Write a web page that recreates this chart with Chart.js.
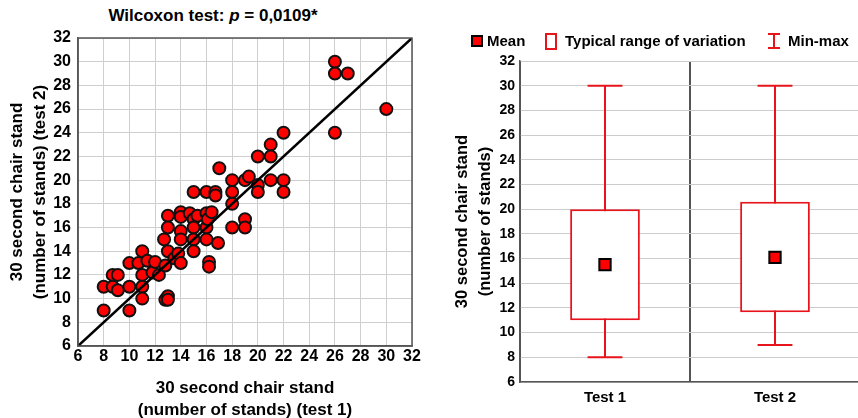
<!DOCTYPE html>
<html>
<head>
<meta charset="utf-8">
<script src="https://cdn.jsdelivr.net/npm/chart.js@4/dist/chart.umd.min.js"></script>
<style>
  html, body { margin:0; padding:0; background:#fff; }
  body { width:858px; height:418px; overflow:hidden; position:relative; font-family:"Liberation Sans", Arial, sans-serif; }
  #cA { position:absolute; left:0; top:0; }
  #cB { position:absolute; left:430px; top:0; }
  .title { position:absolute; left:0; top:5px; width:426px; text-align:center; font-weight:bold; font-size:17px; line-height:22px; color:#000; }
  .lg { position:absolute; font-weight:bold; font-size:15px; line-height:18px; color:#000; top:32px; white-space:nowrap; }
  .sw { position:absolute; box-sizing:border-box; }
</style>
</head>
<body>
<div class="title">Wilcoxon test: <i>p</i> = 0,0109*</div>
<canvas id="cA" width="430" height="430"></canvas>
<canvas id="cB" width="440" height="430"></canvas>

<div class="sw" style="left:471px; top:35px; width:12px; height:12px; background:#ff0000; border:2px solid #000;"></div>
<div class="lg" style="left:487px;">Mean</div>
<div class="sw" style="left:545px; top:33px; width:12px; height:17px; background:#fff; border:2px solid #e8141c;"></div>
<div class="lg" style="left:565px;">Typical range of variation</div>
<div class="sw" style="left:768px; top:33px; width:12px; height:2px; background:#e8141c;"></div>
<div class="sw" style="left:773px; top:33px; width:2px; height:16px; background:#e8141c;"></div>
<div class="sw" style="left:768px; top:47px; width:12px; height:2px; background:#e8141c;"></div>
<div class="lg" style="left:788px;">Min-max</div>

<script>
// ---------- Data: scatter (test 1 vs test 2) ----------
const test1 = [8, 8, 8.7, 9.1, 8.7, 9.1, 10, 10, 10, 10.7, 11, 11, 11, 11, 11.4, 11.8, 12, 12.3, 12.7, 12.8, 12.8, 13, 13, 13, 13, 13, 13.5, 13.8, 14, 14, 14, 14, 14, 14.7, 15, 15, 15, 15, 15, 15.3, 16, 16, 16, 16, 16.1, 16.2, 16.2, 16.4, 16.7, 16.7, 16.9, 17, 18, 18, 18, 18, 19, 19, 19, 19.3, 20, 20, 20, 21, 21, 21, 22, 22, 22, 26, 26, 26, 27, 30];
const test2 = [11, 9, 12, 12, 11, 10.7, 13, 11, 9, 13, 14, 12, 11, 10, 13.2, 12.2, 13.1, 12, 15, 12.8, 9.9, 10.2, 9.9, 17, 16, 14, 13.4, 13.8, 13, 17.3, 16.9, 15.7, 15, 17.2, 19, 16.7, 16, 15, 14, 17, 19, 17.2, 16, 15, 16.7, 13.1, 12.7, 17.3, 19, 18.7, 14.7, 21, 20, 19, 18, 16, 16.7, 16, 20, 20.3, 22, 19.6, 19, 23, 22, 20, 24, 20, 19, 30, 29, 24, 29, 26];
const identityLine = [6, 32];           // y = x reference line endpoints
const scatterTicks = { min: 6, max: 32, step: 2 };

// ---------- Data: summary chart ----------
const categories = ["Test 1", "Test 2"];
const meanVals = [15.5, 16.1];
const boxLow = [11, 11.65];
const boxHigh = [20, 20.6];
const minVals = [8, 9];
const maxVals = [30, 30];
const summaryTicks = { min: 6, max: 32, step: 2 };

const FONT = '"Liberation Sans", Arial, sans-serif';
const RED = '#ff0000';
const BOXRED = '#e8141c';

// frame plugin for scatter plot area
const framePlugin = {
  id: 'frame',
  afterDraw(chart) {
    const a = chart.chartArea, c = chart.ctx;
    c.save();
    c.strokeStyle = '#555';
    c.lineWidth = 1.5;
    c.strokeRect(a.left, a.top, a.right - a.left, a.bottom - a.top);
    c.restore();
  }
};

new Chart(document.getElementById('cA'), {
  type: 'scatter',
  data: {
    datasets: [
      {
        type: 'line',
        data: identityLine.map(v => ({ x: v, y: v })),
        borderColor: '#000',
        borderWidth: 2.5,
        pointRadius: 0,
        order: 0
      },
      {
        data: test1.map((v, i) => ({ x: v, y: test2[i] })),
        backgroundColor: RED,
        borderColor: '#111',
        borderWidth: 2,
        pointRadius: 6,
        order: 1
      }
    ]
  },
  options: {
    responsive: false,
    animation: false,
    devicePixelRatio: 1,
    layout: { padding: { top: 38, right: 18, left: 0, bottom: 0 } },
    plugins: { legend: { display: false }, tooltip: { enabled: false } },
    scales: {
      x: {
        type: 'linear', min: scatterTicks.min, max: scatterTicks.max,
        ticks: { stepSize: scatterTicks.step, color: '#000', padding: 1, font: { family: FONT, size: 16, weight: 'bold' } },
        grid: { color: '#cfcfcf', drawTicks: false },
        border: { color: '#555', width: 1.5 },
        title: { display: true, text: ['30 second chair stand', '(number of stands) (test 1)'], color: '#000',
                 font: { family: FONT, size: 17, weight: 'bold', lineHeight: 1.3 }, padding: { top: 0, bottom: 8.5 } },
        afterFit(s) { s.height = 84; }
      },
      y: {
        type: 'linear', min: scatterTicks.min, max: scatterTicks.max,
        ticks: { stepSize: scatterTicks.step, color: '#000', padding: 7, font: { family: FONT, size: 16, weight: 'bold' } },
        grid: { color: '#cfcfcf', drawTicks: false },
        border: { color: '#555', width: 1.5 },
        title: { display: true, text: ['30 second chair stand', '(number of stands) (test 2)'], color: '#000',
                 font: { family: FONT, size: 17, weight: 'bold', lineHeight: 1.35 }, padding: { top: 6, bottom: 0 } },
        afterFit(s) { s.width = 78; }
      }
    }
  },
  plugins: [framePlugin]
});

// whisker plugin: draws min-max whiskers through the chart's scales
const whiskerPlugin = {
  id: 'whiskers',
  beforeDatasetsDraw(chart) {
    const xs = chart.scales.x, ys = chart.scales.y, c = chart.ctx;
    const barMeta = chart.getDatasetMeta(1);
    c.save();
    c.strokeStyle = BOXRED;
    c.lineWidth = 2;
    categories.forEach((cat, i) => {
      const x = xs.getPixelForValue(i);
      const yMin = ys.getPixelForValue(minVals[i]);
      const yMax = ys.getPixelForValue(maxVals[i]);
      const half = barMeta.data[i].width / 4;
      c.beginPath();
      c.moveTo(x, yMax); c.lineTo(x, yMin);
      c.moveTo(x - half, yMax); c.lineTo(x + half, yMax);
      c.moveTo(x - half, yMin); c.lineTo(x + half, yMin);
      c.stroke();
    });
    c.restore();
  }
};

new Chart(document.getElementById('cB'), {
  type: 'bar',
  data: {
    labels: categories,
    datasets: [
      {
        type: 'line',
        label: 'Mean',
        data: meanVals,
        showLine: false,
        pointStyle: 'rect',
        pointRadius: 8,
        pointBackgroundColor: RED,
        pointBorderColor: '#000',
        pointBorderWidth: 2,
        order: 0
      },
      {
        label: 'Typical range of variation',
        data: categories.map((c, i) => [boxLow[i], boxHigh[i]]),
        backgroundColor: '#fff',
        borderColor: BOXRED,
        borderWidth: 2,
        borderSkipped: false,
        barPercentage: 0.41,
        categoryPercentage: 1,
        order: 1
      }
    ]
  },
  options: {
    responsive: false,
    animation: false,
    devicePixelRatio: 1,
    layout: { padding: { top: 61, right: 5, left: 0, bottom: 0 } },
    plugins: { legend: { display: false }, tooltip: { enabled: false } },
    scales: {
      x: {
        ticks: { color: '#000', padding: 7, font: { family: FONT, size: 15, weight: 'bold' } },
        grid: { offset: true, color: '#555', lineWidth: 2, drawTicks: false },
        border: { color: '#555', width: 1.5 },
        afterFit(s) { s.height = 48; }
      },
      y: {
        min: summaryTicks.min, max: summaryTicks.max,
        ticks: { stepSize: summaryTicks.step, color: '#000', padding: 5, font: { family: FONT, size: 14, weight: 'bold' } },
        grid: { color: '#cccccc', drawTicks: false },
        border: { color: '#555', width: 1.5 },
        title: { display: true, text: ['30 second chair stand', '(number of stands)'], color: '#000',
                 font: { family: FONT, size: 16.5, weight: 'bold', lineHeight: 1.4 }, padding: { top: 20.5, bottom: 0 } },
        afterFit(s) { s.width = 90; }
      }
    }
  },
  plugins: [whiskerPlugin]
});
</script>
</body>
</html>
